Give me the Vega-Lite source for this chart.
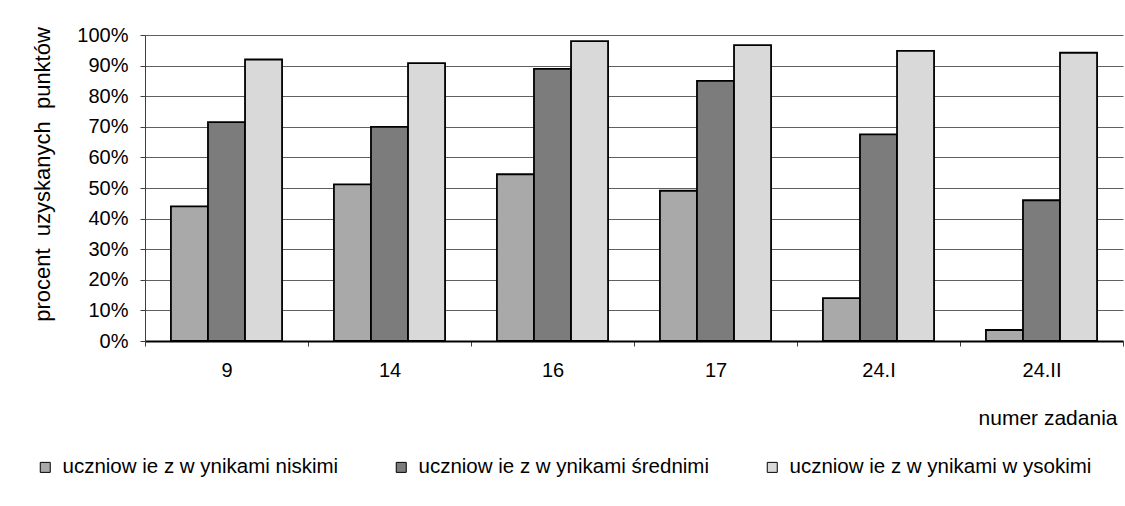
{
  "$schema": "https://vega.github.io/schema/vega-lite/v6.json",
  "width": 978,
  "height": 306,
  "autosize": "none",
  "padding": {"left": 145, "top": 35, "right": 2, "bottom": 165},
  "background": "white",
  "data": {
    "values": [
      {"zadanie": "9", "grupa": "uczniow ie z w ynikami niskimi", "wartosc": 0.44},
      {"zadanie": "9", "grupa": "uczniow ie z w ynikami średnimi", "wartosc": 0.715},
      {"zadanie": "9", "grupa": "uczniow ie z w ynikami w ysokimi", "wartosc": 0.92},
      {"zadanie": "14", "grupa": "uczniow ie z w ynikami niskimi", "wartosc": 0.512},
      {"zadanie": "14", "grupa": "uczniow ie z w ynikami średnimi", "wartosc": 0.70},
      {"zadanie": "14", "grupa": "uczniow ie z w ynikami w ysokimi", "wartosc": 0.908},
      {"zadanie": "16", "grupa": "uczniow ie z w ynikami niskimi", "wartosc": 0.545},
      {"zadanie": "16", "grupa": "uczniow ie z w ynikami średnimi", "wartosc": 0.889},
      {"zadanie": "16", "grupa": "uczniow ie z w ynikami w ysokimi", "wartosc": 0.98},
      {"zadanie": "17", "grupa": "uczniow ie z w ynikami niskimi", "wartosc": 0.491},
      {"zadanie": "17", "grupa": "uczniow ie z w ynikami średnimi", "wartosc": 0.85},
      {"zadanie": "17", "grupa": "uczniow ie z w ynikami w ysokimi", "wartosc": 0.967},
      {"zadanie": "24.I", "grupa": "uczniow ie z w ynikami niskimi", "wartosc": 0.14},
      {"zadanie": "24.I", "grupa": "uczniow ie z w ynikami średnimi", "wartosc": 0.675},
      {"zadanie": "24.I", "grupa": "uczniow ie z w ynikami w ysokimi", "wartosc": 0.948},
      {"zadanie": "24.II", "grupa": "uczniow ie z w ynikami niskimi", "wartosc": 0.036},
      {"zadanie": "24.II", "grupa": "uczniow ie z w ynikami średnimi", "wartosc": 0.46},
      {"zadanie": "24.II", "grupa": "uczniow ie z w ynikami w ysokimi", "wartosc": 0.942}
    ]
  },
  "mark": {"type": "bar", "stroke": "black", "strokeWidth": 1.8},
  "encoding": {
    "x": {
      "field": "zadanie",
      "type": "nominal",
      "sort": ["9", "14", "16", "17", "24.I", "24.II"],
      "scale": {"paddingInner": 0, "paddingOuter": 0},
      "axis": {
        "title": "numer zadania",
        "labelAngle": 0,
        "tickBand": "extent",
        "labelPadding": 14,
        "tickSize": 5,
        "tickColor": "#404040",
        "domainColor": "black",
        "domainWidth": 2,
        "titleAnchor": "end",
        "titleAlign": "right",
        "titleBaseline": "middle",
        "titleX": 972,
        "titleY": 77,
        "grid": false
      }
    },
    "xOffset": {
      "field": "grupa",
      "type": "nominal",
      "sort": ["uczniow ie z w ynikami niskimi", "uczniow ie z w ynikami średnimi", "uczniow ie z w ynikami w ysokimi"],
      "scale": {"paddingInner": 0, "paddingOuter": 0.7}
    },
    "y": {
      "field": "wartosc",
      "type": "quantitative",
      "scale": {"domain": [0, 1], "nice": false},
      "axis": {
        "title": "procent\u00a0\u00a0uzyskanych\u00a0\u00a0punktów",
        "format": ".0%",
        "values": [0, 0.1, 0.2, 0.3, 0.4, 0.5, 0.6, 0.7, 0.8, 0.9, 1],
        "tickSize": 5,
        "labelPadding": 12,
        "tickColor": "#404040",
        "domainColor": "#404040",
        "gridColor": "#606060",
        "gridWidth": 1,
        "titleX": -103,
        "titleY": 139,
        "titleBaseline": "middle",
        "titleFontSize": 22
      }
    },
    "fill": {
      "field": "grupa",
      "type": "nominal",
      "sort": ["uczniow ie z w ynikami niskimi", "uczniow ie z w ynikami średnimi", "uczniow ie z w ynikami w ysokimi"],
      "scale": {
        "domain": ["uczniow ie z w ynikami niskimi", "uczniow ie z w ynikami średnimi", "uczniow ie z w ynikami w ysokimi"],
        "range": ["#a9a9a9", "#7c7c7c", "#d9d9d9"]
      },
      "legend": {
        "title": null,
        "orient": "none",
        "direction": "horizontal",
        "legendX": -110,
        "legendY": 422,
        "symbolType": "square",
        "symbolSize": 100,
        "symbolStrokeColor": "black",
        "symbolStrokeWidth": 1,
        "columnPadding": 52,
        "labelOffset": 7
      }
    }
  },
  "config": {
    "font": "Liberation Sans",
    "view": {"stroke": null},
    "axis": {
      "labelFont": "Liberation Sans",
      "labelFontSize": 20,
      "labelColor": "black",
      "titleFont": "Liberation Sans",
      "titleFontSize": 21,
      "titleFontWeight": "normal",
      "titleColor": "black"
    },
    "legend": {
      "labelFont": "Liberation Sans",
      "labelFontSize": 20.5,
      "labelColor": "black",
      "labelLimit": 400
    }
  }
}
